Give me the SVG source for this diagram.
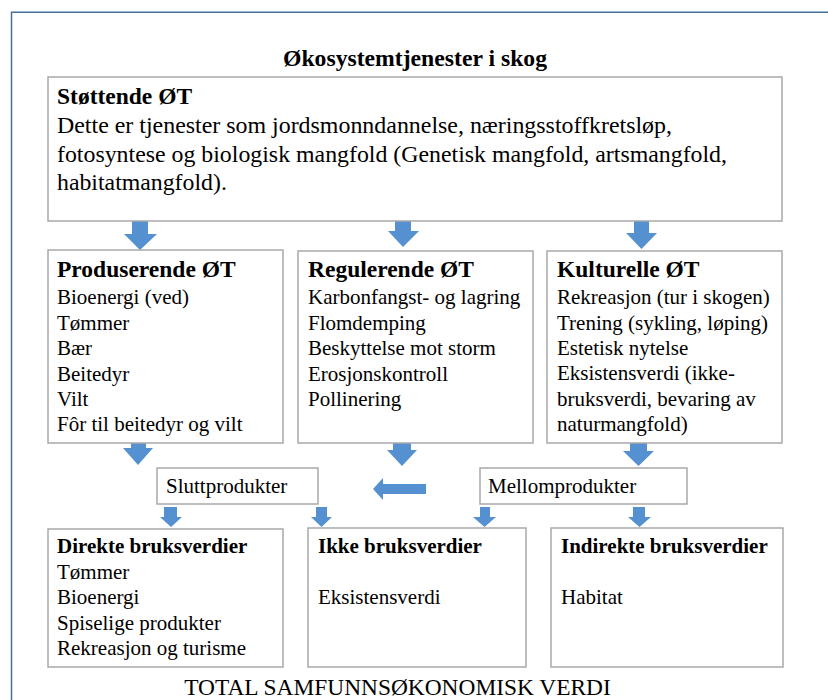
<svg xmlns="http://www.w3.org/2000/svg" width="828" height="700" viewBox="0 0 828 700">
<style>
.box{fill:#fff;stroke:#a9a9a9;stroke-width:1.5}
.arr{fill:#5590d0}
text{font-family:"Liberation Serif","Times New Roman",serif;fill:#000}
.hd{font-weight:bold;font-size:23.5px}
.tb{font-size:23.8px}
.b{font-size:21px}
.hb{font-weight:bold;font-size:21px}
</style>
<rect width="828" height="700" fill="#fff"/>
<path d="M11.5 700 V12.3 H828" fill="none" stroke="#41719c" stroke-width="1.5"/>
<text x="415" y="66" text-anchor="middle" font-weight="bold" font-size="23.6" textLength="264" lengthAdjust="spacingAndGlyphs">Økosystemtjenester i skog</text>

<g id="connectors">
<polygon class="arr" points="132,221 148,221 148,234 157,234 140,250 124,234 132,234"/>
<polygon class="arr" points="395,217 411,217 411,231 419,231 403,247 388,231 395,231"/>
<polygon class="arr" points="634,221 649,221 649,233 657,233 641.5,249 626,233 634,233"/>
<polygon class="arr" points="131,435 146,435 146,448 153,448 138,465 123,448 131,448"/>
<polygon class="arr" points="393,435 411,435 411,450 417,450 402,466 387,450 393,450"/>
<polygon class="arr" points="630,430 647,430 647,451 654,451 638.5,466 623,451 630,451"/>
<polygon class="arr" points="426,484 426,494 383,494 383,500 373,489 383,478 383,484"/>
<polygon class="arr" points="164,507 177,507 177,517 182,517 171,527 160,517 164,517"/>
<polygon class="arr" points="316,507 327,507 327,517 332,517 321.5,527 311,517 316,517"/>
<polygon class="arr" points="480,507 490,507 490,517 496,517 484.5,527 473,517 480,517"/>
<polygon class="arr" points="633,507 645,507 645,517 651,517 639.5,527 628,517 633,517"/>
</g>

<g id="stottende">
<rect class="box" x="48" y="77" width="734" height="144"/>
<text class="hd" x="57" y="104">Støttende ØT</text>
<text class="tb" x="57" y="133" textLength="615" lengthAdjust="spacingAndGlyphs">Dette er tjenester som jordsmonndannelse, næringsstoffkretsløp,</text>
<text class="tb" x="57" y="162" textLength="670" lengthAdjust="spacingAndGlyphs">fotosyntese og biologisk mangfold (Genetisk mangfold, artsmangfold,</text>
<text class="tb" x="57" y="190">habitatmangfold).</text>
</g>

<g id="produserende">
<rect class="box" x="48" y="250" width="235" height="193"/>
<text class="hd" x="57" y="277">Produserende ØT</text>
<text class="b" x="57" y="304">Bioenergi (ved)</text>
<text class="b" x="57" y="330">Tømmer</text>
<text class="b" x="57" y="355">Bær</text>
<text class="b" x="57" y="381">Beitedyr</text>
<text class="b" x="57" y="406">Vilt</text>
<text class="b" x="57" y="431">Fôr til beitedyr og vilt</text>
</g>

<g id="regulerende">
<rect class="box" x="298" y="251" width="235" height="192"/>
<text class="hd" x="308" y="277">Regulerende ØT</text>
<text class="b" x="308" y="304">Karbonfangst- og lagring</text>
<text class="b" x="308" y="330">Flomdemping</text>
<text class="b" x="308" y="355">Beskyttelse mot storm</text>
<text class="b" x="308" y="381">Erosjonskontroll</text>
<text class="b" x="308" y="406">Pollinering</text>
</g>

<g id="kulturelle">
<rect class="box" x="547" y="251" width="235" height="192"/>
<text class="hd" x="557" y="277">Kulturelle ØT</text>
<text class="b" x="557" y="304">Rekreasjon (tur i skogen)</text>
<text class="b" x="557" y="330">Trening (sykling, løping)</text>
<text class="b" x="557" y="355">Estetisk nytelse</text>
<text class="b" x="557" y="380">Eksistensverdi (ikke-</text>
<text class="b" x="557" y="406">bruksverdi, bevaring av</text>
<text class="b" x="557" y="431">naturmangfold)</text>
</g>

<g id="sluttprodukter">
<rect class="box" x="157" y="468" width="161" height="36"/>
<text class="b" x="166" y="493">Sluttprodukter</text>
</g>

<g id="mellomprodukter">
<rect class="box" x="480" y="468" width="207" height="36"/>
<text class="b" x="488" y="493">Mellomprodukter</text>
</g>

<g id="direkte">
<rect class="box" x="48" y="529" width="235" height="138"/>
<text class="hb" x="57" y="553">Direkte bruksverdier</text>
<text class="b" x="57" y="579">Tømmer</text>
<text class="b" x="57" y="604">Bioenergi</text>
<text class="b" x="57" y="630">Spiselige produkter</text>
<text class="b" x="57" y="655">Rekreasjon og turisme</text>
</g>

<g id="ikke">
<rect class="box" x="308" y="528" width="218" height="139"/>
<text class="hb" x="318" y="553">Ikke bruksverdier</text>
<text class="b" x="318" y="604">Eksistensverdi</text>
</g>

<g id="indirekte">
<rect class="box" x="551" y="528" width="232" height="139"/>
<text class="hb" x="561" y="553">Indirekte bruksverdier</text>
<text class="b" x="561" y="604">Habitat</text>
</g>

<text x="397.5" y="695" text-anchor="middle" font-size="23.4">TOTAL SAMFUNNSØKONOMISK VERDI</text>
</svg>
